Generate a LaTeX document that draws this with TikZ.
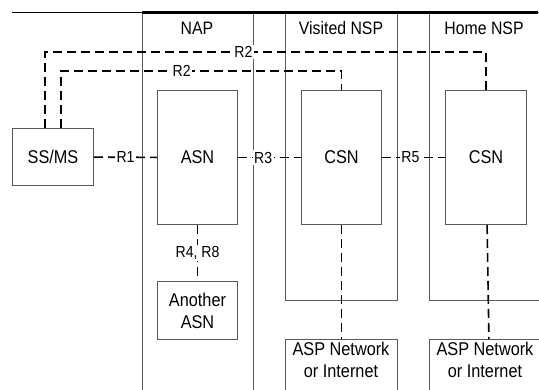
\documentclass[tikz,border=0pt]{standalone}
\usepackage{fontspec}
\setmainfont{Liberation Sans}[FakeStretch=0.88]
\begin{document}
\begin{tikzpicture}[x=1pt,y=-1pt,
  box/.style={draw=black!65, line width=1pt, inner sep=0pt, font=\fontsize{18.5}{22}\selectfont, align=center},
  region/.style={draw=black!65, line width=1pt, inner sep=0pt},
  title/.style={font=\fontsize{18}{19}\selectfont, inner sep=1pt},
  conn/.style={line width=1.6pt, dash pattern=on 9pt off 5pt},
  lbl/.style={fill=white, font=\fontsize{16}{17}\selectfont, inner sep=1.5pt}]
\useasboundingbox (0,0) rectangle (539,389);
\clip (0,0) rectangle (539,389);
% regions
\node[region, anchor=north west, minimum width=111pt, minimum height=400pt] (nap) at (142,12) {};
\node[region, anchor=north west, minimum width=112pt, minimum height=288pt] (vnsp) at (285,12) {};
\node[region, anchor=north west, minimum width=120pt, minimum height=288pt] (hnsp) at (429,12) {};
\node[title] (naplbl) at (197,28) {NAP};
\node[title] (vnsplbl) at (341,28) {Visited NSP};
\node[title] (hnsplbl) at (484,28) {Home NSP};
% top line
\coordinate (tl) at (12,12);
\draw[line width=1pt] (tl) -- (nap.north west);
\draw[line width=3pt] (nap.north west) -- (538,12);
% boxes
\node[box, anchor=north west, minimum width=81pt, minimum height=57pt] (ss) at (12,128) {SS/MS};
\node[box, anchor=north west, minimum width=80pt, minimum height=134pt] (asn) at (157,90) {ASN};
\node[box, anchor=north west, minimum width=80pt, minimum height=58pt] (another) at (157,281) {Another\\ASN};
\node[box, anchor=north west, minimum width=80pt, minimum height=134pt] (vcsn) at (301,90) {CSN};
\node[box, anchor=north west, minimum width=81pt, minimum height=134pt] (hcsn) at (445,90) {CSN};
\node[box, anchor=north west, minimum width=112pt, minimum height=70pt] (vasp) at (285,339) {};
\node[box, anchor=north west, minimum width=120pt, minimum height=70pt] (hasp) at (429,339) {};
\node[box, draw=none, anchor=north] (vasptxt) at (341,342) {ASP Network\\or Internet};
\node[box, draw=none, anchor=north] (hasptxt) at (485,342) {ASP Network\\or Internet};
% connector corners
\coordinate (o1) at (45,52);
\coordinate (i1) at (61,71);
% connectors
\draw[conn] (ss) -- node[lbl] {R1} (asn);
\draw[conn] (asn) -- node[lbl, pos=0.4] {R3} (vcsn);
\draw[conn] (vcsn) -- node[lbl, pos=0.45] {R5} (hcsn);
\draw[conn] (asn) -- node[lbl] {R4, R8} (another);
\draw[conn] (vcsn) -- (vasp);
\draw[conn] (hcsn) -- (hasp);
\draw[conn] (ss.north -| o1) -- (o1) -- node[lbl, pos=0.45] {R2} (o1 -| hcsn.north) -- (hcsn.north);
\draw[conn] (ss.north -| i1) -- (i1) -- node[lbl, pos=0.43] {R2} (i1 -| vcsn.north) -- (vcsn.north);
\end{tikzpicture}
\end{document}
